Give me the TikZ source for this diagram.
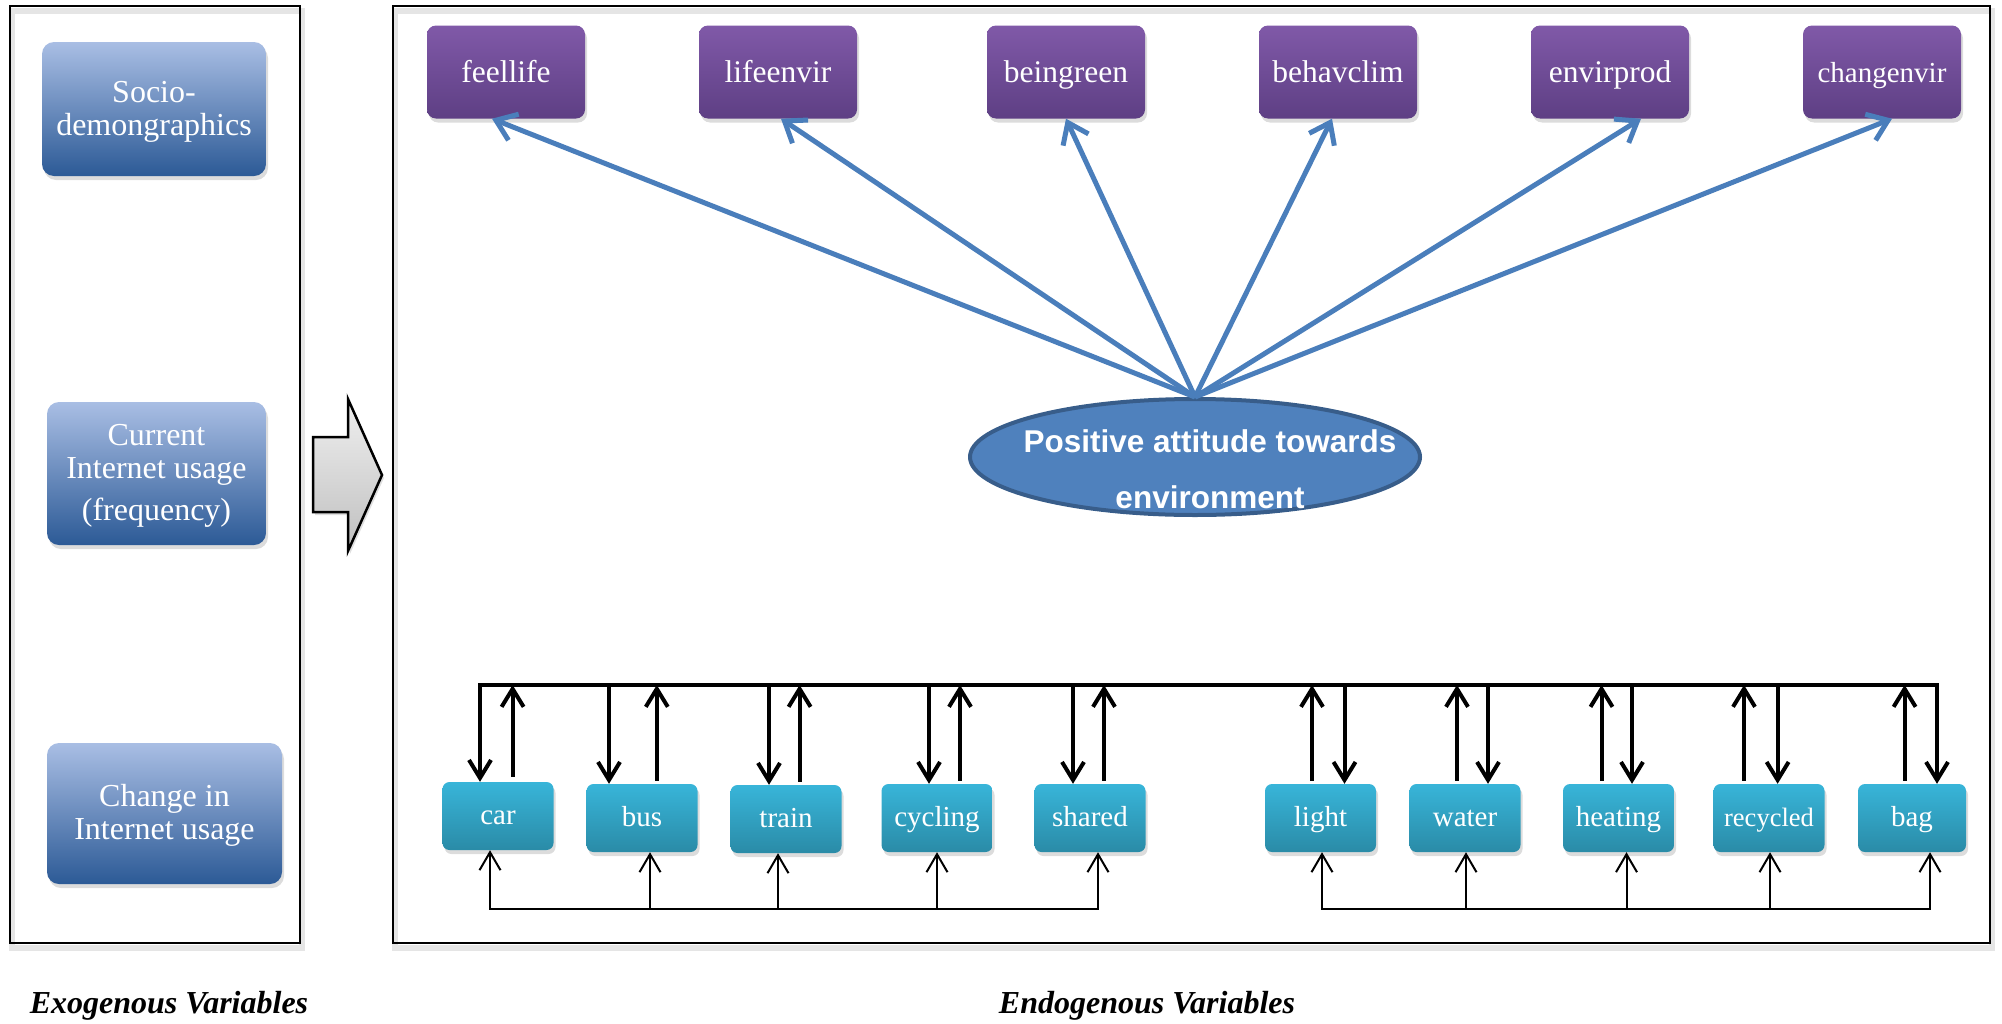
\documentclass[tikz,border=0pt]{standalone}
\usepackage{fontspec}
\setmainfont{Liberation Serif}
\newfontfamily\arialfont{Liberation Sans}
\usetikzlibrary{arrows.meta,shapes.geometric,shadows}

\definecolor{exotop}{HTML}{A9BEE4}
\definecolor{exobot}{HTML}{2C5A96}
\definecolor{purtop}{HTML}{8059A8}
\definecolor{purbot}{HTML}{5E3F84}
\definecolor{teatop}{HTML}{38B5D9}
\definecolor{teabot}{HTML}{2A8BA7}
\definecolor{attfill}{HTML}{4F81BD}
\definecolor{attline}{HTML}{385D8A}
\definecolor{linkblue}{HTML}{4A7EBB}

\tikzset{
  heavytip/.tip={Straight Barb[length=18pt,width=22pt]},
  lighttip/.tip={Straight Barb[length=18pt,width=21pt]},
  linktip/.tip={Straight Barb[length=19pt,width=28pt]}
}

\begin{document}
\begin{tikzpicture}[x=1pt,y=-1pt,
  frame/.style={draw=black,line width=2.5pt},
  frameshadow/.style={draw=black!10,line width=6pt},
  softshadow/.style={drop shadow={shadow xshift=2pt,shadow yshift=-4pt,opacity=0.28}},
  exobox/.style={rectangle,rounded corners=12pt,top color=exotop,bottom color=exobot,
    text=white,align=center,inner sep=0pt,softshadow,
    font=\fontsize{32}{33}\selectfont},
  purbox/.style={rectangle,rounded corners=9pt,top color=purtop,bottom color=purbot,
    text=white,inner sep=0pt,minimum width=158pt,minimum height=93pt,
    text height=22pt,text depth=2pt,softshadow,
    font=\fontsize{31.5}{33}\selectfont},
  teabox/.style={rectangle,rounded corners=7pt,top color=teatop,bottom color=teabot,
    text=white,inner sep=0pt,minimum width=111pt,minimum height=68pt,
    text height=22pt,text depth=6pt,softshadow,
    font=\fontsize{29}{31}\selectfont},
  attnode/.style={ellipse,fill=attfill,draw=attline,line width=4pt,
    minimum width=450pt,minimum height=116pt,inner sep=0pt},
  atttext/.style={text=white,align=center,inner sep=0pt,
    font=\arialfont\bfseries\fontsize{31.5}{56}\selectfont},
  link/.style={draw=linkblue,line width=5pt,-linktip},
  heavy/.style={draw=black,line width=4pt},
  light/.style={draw=black,line width=2pt},
  caption/.style={anchor=base,inner sep=0pt,
    font=\bfseries\itshape\fontsize{32}{34}\selectfont}
]
\useasboundingbox (0,0) rectangle (2002,1023);

% outer frames with their soft shadow
\draw[frameshadow] (12,11) rectangle (302,948);
\draw[frameshadow] (395,11) rectangle (1992,948);
\draw[frame] (10,6) rectangle (300,943);
\draw[frame] (393,6) rectangle (1990,943);

% exogenous variables
\node[exobox,minimum width=224pt,minimum height=134pt] (socio) at (154,109)
  {\rule{0pt}{26pt}Socio-\\demongraphics};
\node[exobox,minimum width=219pt,minimum height=143pt] (current) at (156.5,473.5)
  {\rule{0pt}{25pt}Current\\Internet usage\\[9pt](frequency)};
\node[exobox,minimum width=235pt,minimum height=141pt] (change) at (164.5,813.5)
  {\rule{0pt}{26pt}Change in\\Internet usage};

% block arrow between the two frames
\draw[draw=black,line width=2.5pt,top color=black!6,bottom color=black!25,
      drop shadow={shadow xshift=2pt,shadow yshift=-3pt,opacity=0.25}]
  (313,437) -- (348,437) -- (348,399) -- (382,475) -- (348,551)
  -- (348,512) -- (313,512) -- cycle;

% attitude indicators
\node[purbox] (feellife)   at (506,72)  {feellife};
\node[purbox] (lifeenvir)  at (778,72)  {lifeenvir};
\node[purbox] (beingreen)  at (1066,72) {beingreen};
\node[purbox] (behavclim)  at (1338,72) {behavclim};
\node[purbox] (envirprod)  at (1610,72) {envirprod};
\node[purbox,font=\fontsize{29}{31}\selectfont] (changenvir) at (1882,72) {changenvir};

% latent attitude
\node[attnode] (att) at (1195,457) {};
\node[atttext] (attlabel) at (1210,469) {Positive attitude towards\\environment};

\draw[link] (att.north) -- ([xshift=-14pt]feellife.south);
\draw[link] (att.north) -- ([xshift=3pt]lifeenvir.south);
\draw[link] (att.north) -- (beingreen.south);
\draw[link] (att.north) -- ([xshift=-6pt]behavclim.south);
\draw[link] (att.north) -- ([xshift=31pt]envirprod.south);
\draw[link] (att.north) -- ([xshift=10pt]changenvir.south);

% behaviours
\node[teabox] (car)      at (498,816)    {car};
\node[teabox] (bus)      at (642,818)    {bus};
\node[teabox] (train)    at (786,819)    {train};
\node[teabox] (cycling)  at (937,818)    {cycling};
\node[teabox] (shared)   at (1090,818)   {shared};
\node[teabox] (lightuse) at (1320.5,818) {light};
\node[teabox] (water)    at (1465,818)   {water};
\node[teabox] (heating)  at (1618.5,818) {heating};
\node[teabox,font=\fontsize{26.5}{29}\selectfont] (recycled) at (1769,818) {recycled};
\node[teabox,minimum width=108pt] (bag) at (1912,818) {bag};

\coordinate (topbus) at (0,685);
\coordinate (lowbus) at (0,909);

% upper feedback bus
\draw[heavy,heavytip-heavytip] ([xshift=-18pt]car.north) |- ([xshift=25pt]bag.north |- topbus)
  -- ([xshift=25pt]bag.north);
\draw[heavy,-heavytip] ([xshift=-33pt]bus.north |- topbus) -- ([xshift=-33pt]bus.north);
\draw[heavy,-heavytip] ([xshift=-17pt]train.north |- topbus) -- ([xshift=-17pt]train.north);
\draw[heavy,-heavytip] ([xshift=-8pt]cycling.north |- topbus) -- ([xshift=-8pt]cycling.north);
\draw[heavy,-heavytip] ([xshift=-17pt]shared.north |- topbus) -- ([xshift=-17pt]shared.north);
\draw[heavy,-heavytip] ([xshift=24pt]lightuse.north |- topbus) -- ([xshift=24pt]lightuse.north);
\draw[heavy,-heavytip] ([xshift=23pt]water.north |- topbus) -- ([xshift=23pt]water.north);
\draw[heavy,-heavytip] ([xshift=13.5pt]heating.north |- topbus) -- ([xshift=13.5pt]heating.north);
\draw[heavy,-heavytip] ([xshift=8.6pt]recycled.north |- topbus) -- ([xshift=8.6pt]recycled.north);

\draw[heavy,-heavytip] ([xshift=14.6pt,yshift=5pt]car.north) -- ([xshift=14.6pt]car.north |- topbus);
\draw[heavy,-heavytip] ([xshift=14.8pt,yshift=3pt]bus.north) -- ([xshift=14.8pt]bus.north |- topbus);
\draw[heavy,-heavytip] ([xshift=13.6pt,yshift=3pt]train.north) -- ([xshift=13.6pt]train.north |- topbus);
\draw[heavy,-heavytip] ([xshift=23pt,yshift=3pt]cycling.north) -- ([xshift=23pt]cycling.north |- topbus);
\draw[heavy,-heavytip] ([xshift=14pt,yshift=3pt]shared.north) -- ([xshift=14pt]shared.north |- topbus);
\draw[heavy,-heavytip] ([xshift=-8.5pt,yshift=3pt]lightuse.north) -- ([xshift=-8.5pt]lightuse.north |- topbus);
\draw[heavy,-heavytip] ([xshift=-8pt,yshift=3pt]water.north) -- ([xshift=-8pt]water.north |- topbus);
\draw[heavy,-heavytip] ([xshift=-17pt,yshift=3pt]heating.north) -- ([xshift=-17pt]heating.north |- topbus);
\draw[heavy,-heavytip] ([xshift=-25pt,yshift=3pt]recycled.north) -- ([xshift=-25pt]recycled.north |- topbus);
\draw[heavy,-heavytip] ([xshift=-7.4pt,yshift=3pt]bag.north) -- ([xshift=-7.4pt]bag.north |- topbus);

% lower buses
\draw[light,lighttip-lighttip] ([xshift=-8pt]car.south) |- ([xshift=8pt]shared.south |- lowbus)
  -- ([xshift=8pt]shared.south);
\draw[light,-lighttip] ([xshift=8pt]bus.south |- lowbus) -- ([xshift=8pt]bus.south);
\draw[light,-lighttip] ([xshift=-8pt]train.south |- lowbus) -- ([xshift=-8pt]train.south);
\draw[light,-lighttip] (cycling.south |- lowbus) -- (cycling.south);

\draw[light,lighttip-lighttip] ([xshift=1.5pt]lightuse.south) |- ([xshift=18pt]bag.south |- lowbus)
  -- ([xshift=18pt]bag.south);
\draw[light,-lighttip] ([xshift=1pt]water.south |- lowbus) -- ([xshift=1pt]water.south);
\draw[light,-lighttip] ([xshift=8pt]heating.south |- lowbus) -- ([xshift=8pt]heating.south);
\draw[light,-lighttip] ([xshift=1pt]recycled.south |- lowbus) -- ([xshift=1pt]recycled.south);

% captions
\node[caption] (exolabel)  at (169,1013)  {Exogenous Variables};
\node[caption] (endolabel) at (1147,1013) {Endogenous Variables};
\end{tikzpicture}
\end{document}
